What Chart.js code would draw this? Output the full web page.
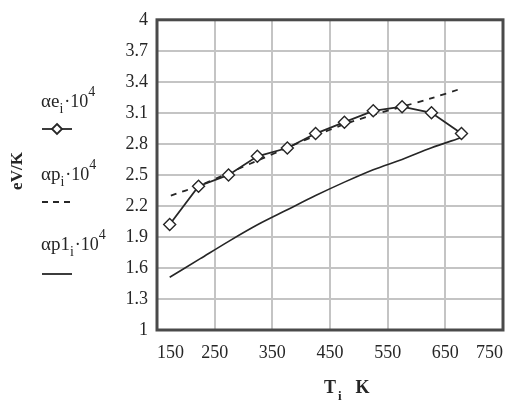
<!DOCTYPE html>
<html>
<head>
<meta charset="utf-8">
<script src="https://cdn.jsdelivr.net/npm/chart.js@4"></script>
<style>
  html, body { margin: 0; padding: 0; background: #fff; }
  #wrap { width: 515px; height: 407px; }
</style>
</head>
<body>
<div id="wrap"><canvas id="c" width="515" height="407"></canvas></div>
<script>
// data
const tE  = [172, 222, 274, 324, 376, 425, 475, 525, 575, 626, 678];
const aE  = [2.02, 2.39, 2.50, 2.68, 2.76, 2.90, 3.01, 3.12, 3.16, 3.10, 2.90];
const tP  = [174, 225, 275, 325, 375, 425, 475, 525, 575, 625, 675];
const aP  = [2.30, 2.40, 2.52, 2.64, 2.76, 2.88, 2.99, 3.08, 3.16, 3.24, 3.33];
const tP1 = [172, 225, 275, 325, 375, 425, 475, 525, 575, 625, 677];
const aP1 = [1.51, 1.69, 1.86, 2.02, 2.16, 2.30, 2.43, 2.55, 2.65, 2.76, 2.86];

const xTicks = [150, 250, 350, 450, 550, 650, 750];
const yTicks = [1, 1.3, 1.6, 1.9, 2.2, 2.5, 2.8, 3.1, 3.4, 3.7, 4];

const pts = (xs, ys) => xs.map((x, i) => ({ x: x, y: ys[i] }));

const SERIF = '"Liberation Serif", "Times New Roman", serif';
const INK = '#262626';

// draw text made of pieces (subscripts / superscripts)
function richText(ctx, x, y, parts) {
    parts.forEach(p => {
        ctx.font = (p.bold ? 'bold ' : '') + p.size + 'px ' + SERIF;
        ctx.fillText(p.t, x, y + (p.dy || 0));
        x += ctx.measureText(p.t).width + (p.gap || 0);
    });
}

const extras = {
    id: 'extras',
    afterDraw(chart) {
        const ctx = chart.ctx;
        const a = chart.chartArea;
        ctx.save();
        // frame
        ctx.strokeStyle = '#4a4a4a';
        ctx.lineWidth = 3;
        ctx.strokeRect(a.left, a.top, a.right - a.left, a.bottom - a.top);

        ctx.fillStyle = INK;
        ctx.textBaseline = 'alphabetic';
        ctx.textAlign = 'left';

        // legend texts
        richText(ctx, 41, 107, [
            { t: 'αe', size: 19 }, { t: 'i', size: 14, dy: 6, gap: 1 },
            { t: '·10', size: 18 }, { t: '4', size: 14, dy: -11 }
        ]);
        richText(ctx, 41, 180, [
            { t: 'αp', size: 19 }, { t: 'i', size: 14, dy: 6, gap: 1 },
            { t: '·10', size: 18 }, { t: '4', size: 14, dy: -11 }
        ]);
        richText(ctx, 41, 250, [
            { t: 'αp1', size: 19 }, { t: 'i', size: 14, dy: 6, gap: 1 },
            { t: '·10', size: 18 }, { t: '4', size: 14, dy: -11 }
        ]);

        // legend samples
        ctx.strokeStyle = INK;
        ctx.lineWidth = 1.8;
        ctx.beginPath(); ctx.moveTo(42, 129); ctx.lineTo(72, 129); ctx.stroke();
        ctx.fillStyle = '#fff';
        ctx.beginPath();
        ctx.moveTo(57, 124); ctx.lineTo(62, 129); ctx.lineTo(57, 134); ctx.lineTo(52, 129);
        ctx.closePath(); ctx.fill(); ctx.stroke();
        ctx.setLineDash([6, 5]);
        ctx.beginPath(); ctx.moveTo(42, 202); ctx.lineTo(73, 202); ctx.stroke();
        ctx.setLineDash([]);
        ctx.beginPath(); ctx.moveTo(42, 274); ctx.lineTo(72, 274); ctx.stroke();

        // axis titles
        ctx.fillStyle = INK;
        richText(ctx, 324, 393, [
            { t: 'T', size: 18, bold: true, gap: 2 }, { t: 'i', size: 13, bold: true, dy: 7, gap: 14 },
            { t: 'K', size: 18, bold: true }
        ]);
        ctx.translate(22, 171);
        ctx.rotate(-Math.PI / 2);
        ctx.textAlign = 'center';
        ctx.font = 'bold 17px ' + SERIF;
        ctx.fillText('eV/K', 0, 0);
        ctx.restore();
    }
};

new Chart(document.getElementById('c'), {
    type: 'line',
    data: {
        datasets: [
            {
                label: 'αe',
                data: pts(tE, aE),
                borderColor: INK,
                borderWidth: 1.8,
                pointStyle: 'rectRot',
                pointRadius: 6,
                pointBorderWidth: 1.4,
                pointBackgroundColor: '#fff',
                pointBorderColor: INK,
                tension: 0
            },
            {
                label: 'αp',
                data: pts(tP, aP),
                borderColor: INK,
                borderWidth: 1.8,
                borderDash: [6, 6],
                pointRadius: 0,
                tension: 0.3
            },
            {
                label: 'αp1',
                data: pts(tP1, aP1),
                borderColor: INK,
                borderWidth: 1.6,
                pointRadius: 0,
                tension: 0.3
            }
        ]
    },
    options: {
        responsive: false,
        animation: false,
        layout: { padding: { left: 0, right: 3, top: 14, bottom: 0 } },
        plugins: {
            legend: { display: false },
            tooltip: { enabled: false }
        },
        scales: {
            x: {
                type: 'linear',
                min: 150,
                max: 750,
                afterBuildTicks: axis => { axis.ticks = xTicks.map(v => ({ value: v })); },
                afterFit: axis => { axis.height = 77; },
                grid: { color: '#c4c4c4', lineWidth: 2, drawTicks: false },
                border: { display: false },
                ticks: {
                    align: 'inner',
                    padding: 12,
                    color: INK,
                    font: { family: SERIF, size: 18 },
                    maxRotation: 0
                }
            },
            y: {
                min: 1,
                max: 4,
                afterBuildTicks: axis => { axis.ticks = yTicks.map(v => ({ value: v })); },
                afterFit: axis => { axis.width = 157; },
                grid: { color: '#c4c4c4', lineWidth: 2, drawTicks: false },
                border: { display: false },
                ticks: {
                    padding: 9,
                    color: INK,
                    font: { family: SERIF, size: 18 },
                    callback: v => String(Math.round(v * 10) / 10)
                }
            }
        }
    },
    plugins: [extras]
});
</script>
</body>
</html>
